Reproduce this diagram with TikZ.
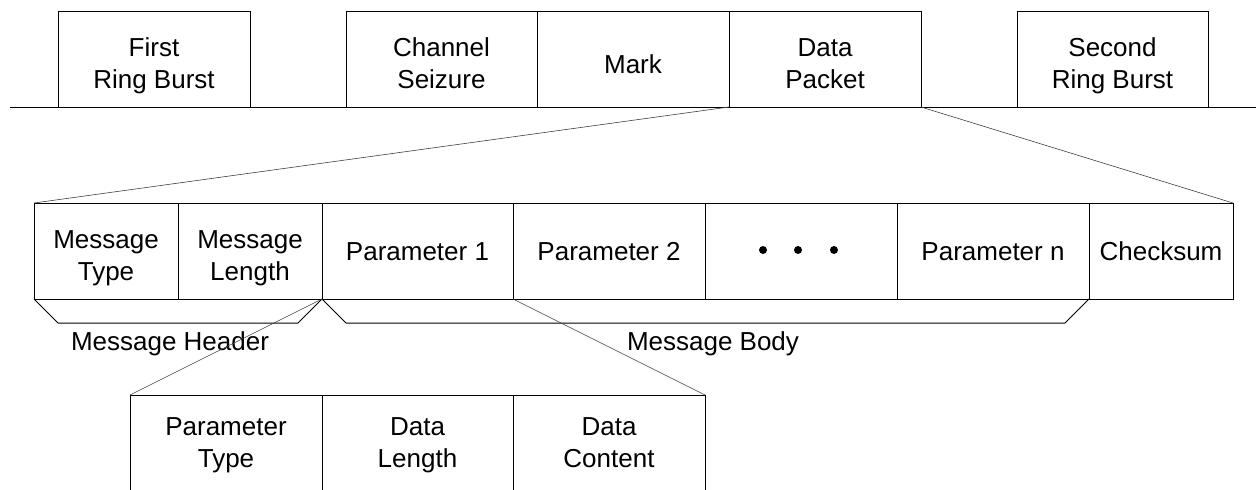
\documentclass[tikz,border=0pt]{standalone}
\usepackage{fontspec}
\setmainfont{Liberation Sans}
\usetikzlibrary{calc}
\begin{document}
\begin{tikzpicture}[x=0.75pt,y=-0.75pt,
  every node/.style={font=\fontsize{19.5}{24.5}\selectfont},
  cell/.style={draw, line width=0.75pt, rectangle, inner sep=0pt, outer sep=0pt, align=center, anchor=north west, minimum height=72pt},
  two/.style={text height=44.5pt, text depth=0pt},
  one/.style={text height=14pt, text depth=0pt},
  onelow/.style={text height=21.4pt, text depth=0pt},
  twobot/.style={text height=38.5pt, text depth=4.1pt},
  wA/.style={minimum width=144pt},
  wB/.style={minimum width=143.25pt},
  wC/.style={minimum width=108pt},
  zoomline/.style={draw=black!75, line width=0.45pt},
  brace/.style={draw, line width=0.75pt},
  dotmark/.style={fill=black}]
\useasboundingbox (0,0) rectangle (1256,489);
% top row
\coordinate (L) at (10,107);
\coordinate (R) at (1256,107);
\draw[line width=0.75pt] (L) -- (R);
\node[cell,wA,two] (t1) at (58,11) {First\\Ring Burst};
\node[cell,wB,two] (t2) at (346,11) {Channel\\Seizure};
\node[cell,wA,onelow] (t3) at (t2.north east) {Mark};
\node[cell,wA,two] (t4) at (t3.north east) {Data\\Packet};
\node[cell,wB,two] (t5) at (1017,11) {Second\\Ring Burst};
% middle row
\node[cell,wC,two] (m1) at (34,203) {Message\\Type};
\node[cell,wC,two] (m2) at (m1.north east) {Message\\Length};
\node[cell,wB,one] (m3) at (m2.north east) {Parameter 1};
\node[cell,wA,one] (m4) at (m3.north east) {Parameter 2};
\node[cell,wA] (m5) at (m4.north east) {};
\node[cell,wA,one] (m6) at (m5.north east) {Parameter n};
\node[cell,wC,one] (m7) at (m6.north east) {Checksum};
\fill[dotmark] ($(m5.center)+(-38,-1)$) circle (3pt);
\fill[dotmark] ($(m5.center)+(-3,-1)$) circle (3pt);
\fill[dotmark] ($(m5.center)+(33,-1)$) circle (3pt);
% braces
\draw[brace] (m1.south west) -- ++(24,24) -- ($(m2.south east)+(-24,24)$) -- (m2.south east);
\draw[brace] (m3.south west) -- ++(24,24) -- ($(m6.south east)+(-24,24)$) -- (m6.south east);
\node[anchor=base] (hdr) at (170,350) {Message Header};
\node[anchor=base] (body) at (713,350) {Message Body};
% bottom row
\node[cell,wA,twobot,minimum height=75pt] (b1) at (130,395) {Parameter\\Type};
\node[cell,wB,twobot,minimum height=75pt] (b2) at (b1.north east) {Data\\Length};
\node[cell,wA,twobot,minimum height=75pt] (b3) at (b2.north east) {Data\\Content};
% zoom lines
\draw[zoomline] (t4.south west) -- (m1.north west);
\draw[zoomline] (t4.south east) -- (m7.north east);
\draw[zoomline] (m3.south west) -- (b1.north west);
\draw[zoomline] (m3.south east) -- (b3.north east);
\end{tikzpicture}
\end{document}
